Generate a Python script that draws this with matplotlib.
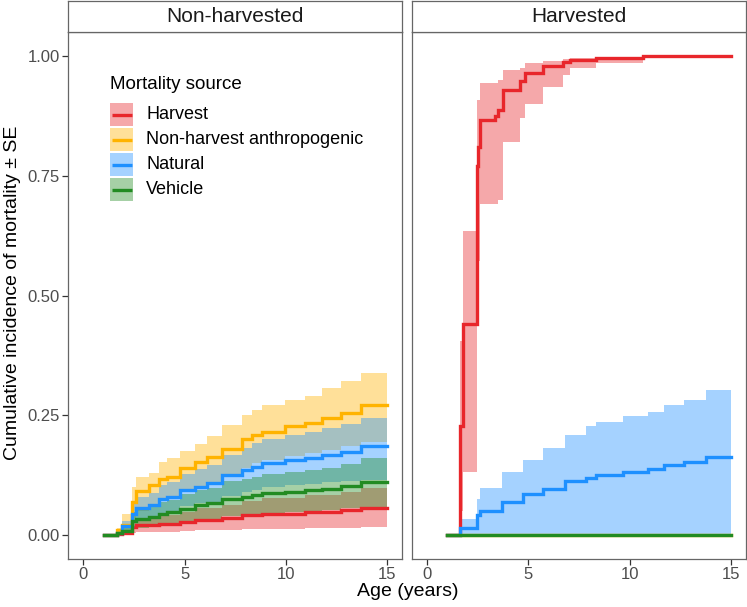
import matplotlib
matplotlib.use("Agg")
from matplotlib import pyplot as plt
from matplotlib.patches import Rectangle

plt.rcParams['font.family'] = ['Liberation Sans', 'DejaVu Sans']

# ---- data (step curves, years vs cumulative incidence) ----
sources = ['Harvest', 'Non-harvest anthropogenic', 'Natural', 'Vehicle']
colors = ['#E8262B', '#FFB300', '#1E90FF', '#228B22']

# non-harvested panel: shared event times
t_nh = [1.0, 1.67, 1.92, 2.41, 2.57, 3.23, 3.72, 4.13, 4.79, 5.52, 6.10,
        6.84, 7.82, 8.31, 8.81, 9.95, 10.94, 11.76, 12.74, 13.72, 15.0]

nh_harvest = [0, 0.002, 0.004, 0.016, 0.020, 0.020, 0.023, 0.023, 0.027, 0.032, 0.032,
              0.036, 0.041, 0.041, 0.045, 0.045, 0.048, 0.048, 0.052, 0.057, 0.057]
nh_harvest_hi = [0, 0.004, 0.008, 0.030, 0.036, 0.036, 0.041, 0.041, 0.048, 0.056, 0.056,
                 0.063, 0.071, 0.071, 0.078, 0.078, 0.083, 0.083, 0.090, 0.099, 0.099]
nh_harvest_lo = [0, 0.0, 0.001, 0.005, 0.006, 0.006, 0.007, 0.007, 0.008, 0.010, 0.010,
                 0.011, 0.012, 0.012, 0.013, 0.013, 0.014, 0.014, 0.015, 0.017, 0.017]

nh_anthro = [0, 0.010, 0.020, 0.069, 0.092, 0.104, 0.118, 0.122, 0.140, 0.153, 0.164,
             0.180, 0.200, 0.209, 0.216, 0.227, 0.234, 0.244, 0.255, 0.272, 0.272]
nh_anthro_hi = [0, 0.015, 0.045, 0.100, 0.122, 0.130, 0.153, 0.160, 0.175, 0.190, 0.206,
                0.230, 0.250, 0.262, 0.272, 0.283, 0.290, 0.307, 0.321, 0.339, 0.339]
nh_anthro_lo = [0, 0.005, 0.005, 0.035, 0.050, 0.062, 0.075, 0.080, 0.090, 0.100, 0.110,
                0.125, 0.140, 0.150, 0.157, 0.165, 0.172, 0.178, 0.185, 0.195, 0.195]

nh_natural = [0, 0.005, 0.018, 0.045, 0.056, 0.062, 0.076, 0.080, 0.094, 0.101, 0.108,
              0.125, 0.136, 0.143, 0.150, 0.157, 0.160, 0.167, 0.174, 0.185, 0.185]
nh_natural_hi = [0, 0.008, 0.030, 0.065, 0.080, 0.088, 0.105, 0.110, 0.127, 0.137, 0.147,
                 0.168, 0.182, 0.192, 0.200, 0.210, 0.215, 0.223, 0.232, 0.244, 0.244]
nh_natural_lo = [0, 0.002, 0.006, 0.025, 0.032, 0.036, 0.047, 0.050, 0.060, 0.066, 0.070,
                 0.082, 0.090, 0.095, 0.100, 0.104, 0.106, 0.110, 0.113, 0.115, 0.115]

nh_vehicle = [0, 0.005, 0.009, 0.030, 0.034, 0.038, 0.045, 0.048, 0.055, 0.062, 0.066,
              0.076, 0.080, 0.083, 0.087, 0.090, 0.094, 0.097, 0.103, 0.110, 0.110]
nh_vehicle_hi = [0, 0.008, 0.015, 0.048, 0.055, 0.060, 0.070, 0.074, 0.085, 0.094, 0.099,
                 0.113, 0.118, 0.122, 0.127, 0.131, 0.136, 0.140, 0.148, 0.160, 0.160]
nh_vehicle_lo = [0, 0.002, 0.003, 0.013, 0.015, 0.017, 0.021, 0.023, 0.026, 0.030, 0.033,
                 0.039, 0.042, 0.044, 0.047, 0.049, 0.051, 0.053, 0.056, 0.059, 0.059]

# harvested panel
t_h_harvest = [1.0, 1.64, 1.80, 2.46, 2.52, 2.62, 3.36, 3.52, 3.77, 4.59, 4.84,
               5.74, 6.72, 7.05, 8.36, 10.66, 15.0]
h_harvest = [0, 0.227, 0.440, 0.770, 0.810, 0.867, 0.875, 0.888, 0.930, 0.948, 0.965,
             0.979, 0.988, 0.993, 0.996, 1.0, 1.0]
h_harvest_hi = [0, 0.405, 0.636, 0.909, 0.909, 0.944, 0.944, 0.951, 0.972, 0.975, 0.986,
                0.990, 0.995, 0.997, 0.999, 1.0, 1.0]
h_harvest_lo = [0, 0.05, 0.132, 0.573, 0.573, 0.692, 0.692, 0.700, 0.820, 0.870, 0.900,
                0.935, 0.960, 0.975, 0.985, 1.0, 1.0]

t_h_natural = [1.0, 1.64, 2.46, 2.62, 3.69, 4.75, 5.74, 6.80, 7.87, 8.36, 9.67,
               10.90, 11.72, 12.71, 13.77, 15.0]
h_natural = [0, 0.015, 0.041, 0.051, 0.069, 0.085, 0.096, 0.113, 0.120, 0.125, 0.132,
             0.138, 0.146, 0.153, 0.164, 0.164]
h_natural_hi = [0, 0.033, 0.076, 0.099, 0.132, 0.157, 0.181, 0.209, 0.227, 0.237, 0.249,
                0.256, 0.272, 0.283, 0.302, 0.302]
h_natural_lo = [0, 0, 0, 0, 0, 0, 0, 0, 0, 0, 0, 0, 0, 0, 0, 0]

t_h_zero = [1.0, 15.0]
h_zero = [0, 0]

W, H = 747, 607
fig = plt.figure(figsize=(W / 100, H / 100), dpi=100)


def px_axes(x0, y0, x1, y1):
    # pixel box (top-left origin) -> figure axes
    return fig.add_axes([x0 / W, 1 - y1 / H, (x1 - x0) / W, (y1 - y0) / H])


panel_nh = [
    (t_nh, nh_harvest, nh_harvest_lo, nh_harvest_hi),
    (t_nh, nh_anthro, nh_anthro_lo, nh_anthro_hi),
    (t_nh, nh_natural, nh_natural_lo, nh_natural_hi),
    (t_nh, nh_vehicle, nh_vehicle_lo, nh_vehicle_hi),
]
panel_h = [
    (t_h_harvest, h_harvest, h_harvest_lo, h_harvest_hi),
    (t_h_zero, h_zero, h_zero, h_zero),
    (t_h_natural, h_natural, h_natural_lo, h_natural_hi),
    (t_h_zero, h_zero, h_zero, h_zero),
]

edge = '#666666'
lw = 2.4
for i, (title, series) in enumerate([('Non-harvested', panel_nh), ('Harvested', panel_h)]):
    x0, x1 = (68.3, 402.3) if i == 0 else (411.7, 746.0)
    ax = px_axes(x0, 32.3, x1, 559)
    for (t, y, lo, hi), c in zip(series, colors):
        ax.fill_between(t, lo, hi, step='post', color=c, alpha=0.4, lw=0)
    for (t, y, lo, hi), c in zip(series, colors):
        ax.step(t, y, where='post', color=c, lw=lw, solid_joinstyle='miter')
    ax.set_xlim(-0.75, 15.75)
    ax.set_ylim(-0.05, 1.05)
    ax.set_xticks([0, 5, 10, 15])
    ax.set_yticks([0, 0.25, 0.5, 0.75, 1.0])
    ax.set_yticklabels(['0.00', '0.25', '0.50', '0.75', '1.00'])
    ax.tick_params(labelsize=12, labelcolor='#4D4D4D', color='#333333',
                   length=4, width=0.9, pad=2)
    if i == 1:
        ax.tick_params(axis='y', left=False, labelleft=False)
    for s in ax.spines.values():
        s.set_color(edge)
        s.set_linewidth(0.9)

    strip = px_axes(x0, 1, x1, 32.3)
    strip.set_xticks([])
    strip.set_yticks([])
    for s in strip.spines.values():
        s.set_color(edge)
        s.set_linewidth(0.9)
    strip.text(0.5, 0.5, title, ha='center', va='center', fontsize=15,
               color='#1A1A1A', transform=strip.transAxes)

fig.text(408 / W, 1 - 592 / H, 'Age (years)', ha='center', va='center', fontsize=14)
fig.text(13 / W, 1 - 293 / H, 'Cumulative incidence of mortality ± SE', ha='center',
         va='center', rotation=90, fontsize=14)

# legend drawn as keys (filled box + line) in a pixel-space overlay
lg = fig.add_axes([0, 0, 1, 1], facecolor='none')
lg.set_xlim(0, W)
lg.set_ylim(H, 0)
lg.axis('off')
lg.text(110, 84.5, 'Mortality source', ha='left', va='center', fontsize=13.5)
for k, (name, c) in enumerate(zip(sources, colors)):
    top = 103.3 + 25 * k
    lg.add_patch(Rectangle((110, top), 23.3, 22.4, facecolor=c, alpha=0.4, lw=0))
    lg.plot([111.5, 131.8], [top + 11.2, top + 11.2], color=c, lw=lw,
            solid_capstyle='butt')
    lg.text(146, top + 11.2, name, ha='left', va='center', fontsize=13)

fig.savefig('out.png', dpi=100)
